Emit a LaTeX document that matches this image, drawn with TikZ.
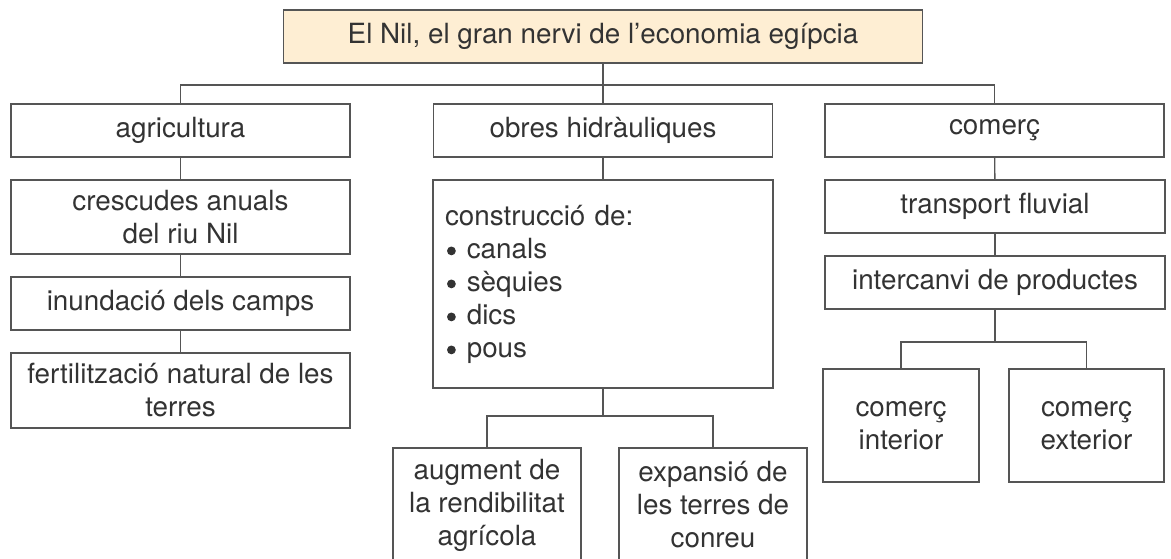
\documentclass[tikz,border=0pt]{standalone}
\usepackage{fontspec}
\setmainfont{TeX Gyre Heros}
\usetikzlibrary{positioning}
\definecolor{boxline}{HTML}{555555}
\definecolor{boxtext}{HTML}{333333}
\definecolor{titlefill}{HTML}{FEEED3}
\newcommand{\itemdot}{\hspace*{1pt}\tikz[baseline=-3.6pt]\fill[boxtext] (0,0) circle (2.2pt);\hspace{5.5pt}}
\tikzset{
  box/.style={draw=boxline, line width=0.7pt, text=boxtext, align=center, inner sep=0pt,
    font=\fontsize{13.9}{16.5}\selectfont},
  wide/.style={box, minimum width=169.5pt, minimum height=26.5pt},
  narrow/.style={box, minimum width=94pt, minimum height=57pt},
  link/.style={draw=boxline, line width=0.7pt},
}

\begin{document}
\begin{tikzpicture}[x=0.5pt,y=-0.5pt]
      \useasboundingbox (0,0) rectangle (1171,558);
      \clip (0,0) rectangle (1171,558);
      % title
      \node[box, fill=titlefill, minimum width=319.5pt, minimum height=26.5pt] (nil) at (603,36.5) {El Nil, el gran nervi de l’economia egípcia};
      % three branches
      \node[wide] (agri) at (180.5,130.5) {agricultura};
      \node[wide] (obres) at (603,130.5) {obres hidràuliques};
      \node[wide] (comerc) at (994.5,130.5) {comerç};
      % agricultura
      \node[wide, minimum height=37pt] (cresc) at (180.5,217) {crescudes anuals\\del riu Nil};
      \node[wide] (inund) at (180.5,303.5) {inundació dels camps};
      \node[wide, minimum height=37.5pt] (fert) at (180.5,390.5) {fertilització natural de les\\terres};
      % obres hidrauliques
      \node[box, align=left, text width=158pt, inner xsep=6pt, minimum height=104pt] (constr) at (603,284)
        {construcció de:\\\itemdot canals\\\itemdot sèquies\\\itemdot dics\\\itemdot pous};
      \node[narrow] (augm) at (487,505) {augment de\\la rendibilitat\\agrícola};
      \node[narrow] (expan) at (713,505) {expansió de\\les terres de\\conreu};
      % comerc
      \node[box, minimum width=170pt, minimum height=26.5pt] (transp) at (995,206.5) {transport fluvial};
      \node[box, minimum width=170pt, minimum height=26.5pt] (interc) at (995,282.5) {intercanvi de productes};
      \node[box, minimum width=78pt, minimum height=56.5pt] (cint) at (901,425.5) {comerç\\interior};
      \node[box, minimum width=77.5pt, minimum height=56.5pt] (cext) at (1086.5,425.5) {comerç\\exterior};

      % connectors
      \coordinate (bus) at (0,85);
      \coordinate (busb) at (0,416);
      \coordinate (busc) at (0,342);
      \draw[link] (nil.south) -- (obres.north);
      \draw[link] (agri.north) |- (bus -| comerc.north) -- (comerc.north);
      \draw[link] (agri) -- (cresc);
      \draw[link] (cresc) -- (inund);
      \draw[link] (inund) -- (fert);
      \draw[link] (obres) -- (constr);
      \draw[link] (constr.south) -- (busb -| constr.south);
      \draw[link] (augm.north) |- (busb -| expan.north) -- (expan.north);
      \draw[link] (comerc) -- (transp);
      \draw[link] (transp) -- (interc);
      \draw[link] (interc.south) -- (busc -| interc.south);
      \draw[link] (cint.north) |- (busc -| cext.north) -- (cext.north);
\end{tikzpicture}
\end{document}
